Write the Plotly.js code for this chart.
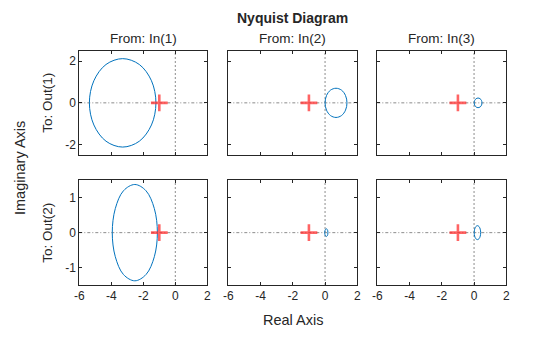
<!DOCTYPE html>
<html>
<head>
<meta charset="utf-8">
<script src="https://cdn.plot.ly/plotly-3.0.1.min.js"></script>
<style>html,body{margin:0;padding:0;background:#fff;}#chart{width:560px;height:337px;}</style>
</head>
<body>
<div id="chart"></div>
<script>
// Nyquist curves (closed loops, real / imaginary parts)
var c11_re = [-1.21,-1.49,-2.25,-3.29,-4.33,-5.09,-5.37,-5.09,-4.33,-3.29,-2.25,-1.49,-1.21];
var c11_im = [0,1.06,1.84,2.12,1.84,1.06,0,-1.06,-1.84,-2.12,-1.84,-1.06,0];
var c12_re = [1.36,1.27,1.02,0.68,0.34,0.09,0.0,0.09,0.34,0.68,1.02,1.27,1.36];
var c12_im = [0,0.35,0.61,0.70,0.61,0.35,0,-0.35,-0.61,-0.70,-0.61,-0.35,0];
var c13_re = [0.49,0.46,0.37,0.25,0.13,0.04,0.01,0.04,0.13,0.25,0.37,0.46,0.49];
var c13_im = [0,0.115,0.20,0.23,0.20,0.115,0,-0.115,-0.20,-0.23,-0.20,-0.115,0];
var c21_re = [-1.12,-1.31,-1.83,-2.53,-3.24,-3.75,-3.94,-3.75,-3.24,-2.53,-1.83,-1.31,-1.12];
var c21_im = [0,0.69,1.20,1.38,1.20,0.69,0,-0.69,-1.20,-1.38,-1.20,-0.69,0];
var c22_re = [0.18,0.167,0.13,0.08,0.03,-0.007,-0.02,-0.007,0.03,0.08,0.13,0.167,0.18];
var c22_im = [0,0.055,0.095,0.11,0.095,0.055,0,-0.055,-0.095,-0.11,-0.095,-0.055,0];
var c23_re = [0.41,0.383,0.31,0.21,0.11,0.037,0.01,0.037,0.11,0.21,0.31,0.383,0.41];
var c23_im = [0,0.10,0.173,0.20,0.173,0.10,0,-0.10,-0.173,-0.20,-0.173,-0.10,0];
var critical_re = [-1];
var critical_im = [0];

var inputs = ["From: In(1)","From: In(2)","From: In(3)"];
var outputs = ["To: Out(1)","To: Out(2)"];
var xTicks = [-6,-4,-2,0,2];
var yTicksRow1 = [-2,0,2];
var yTicksRow2 = [-1,0,1];
var xRange = [-6,2];
var yRangeRow1 = [-2.5,2.5];
var yRangeRow2 = [-1.5,1.5];

var curves = [[c11_re,c11_im],[c12_re,c12_im],[c13_re,c13_im],[c21_re,c21_im],[c22_re,c22_im],[c23_re,c23_im]];

var blue = '#0072BD';
var ink = '#262626';
var traces = [];
var shapes = [];
var axisIds = ['','2','3','4','5','6'];
for (var i=0;i<6;i++){
  var xa = 'x'+axisIds[i], ya = 'y'+axisIds[i];
  traces.push({x:curves[i][0], y:curves[i][1], type:'scatter', mode:'lines',
    line:{color:blue,width:1,shape:'spline',smoothing:1}, xaxis:xa, yaxis:ya, hoverinfo:'skip'});
  traces.push({x:critical_re, y:critical_im, type:'scatter', mode:'markers',
    marker:{symbol:'cross-thin', size:12, line:{color:'rgba(255,40,40,0.72)',width:2.6}},
    xaxis:xa, yaxis:ya, hoverinfo:'skip'});
  shapes.push({type:'line', xref:xa+' domain', x0:0, x1:1, yref:ya, y0:0, y1:0,
    line:{color:'#8c8c8c', width:1, dash:'3px,2px,1px,2px'}, layer:'below'});
  shapes.push({type:'line', yref:ya+' domain', y0:0, y1:1, xref:xa, x0:0, x1:0,
    line:{color:'#8c8c8c', width:1, dash:'2px,2px'}, layer:'below'});
}

var font = {family:'Liberation Sans, Arial, sans-serif', size:12, color:ink};
var xDomains = [[79.3/560,207.3/560],[228.3/560,357.3/560],[377.3/560,506.3/560]];
var yDomains = [[1-155/337,1-50.7/337],[1-285/337,1-180.3/337]];

function xax(col,row){
  return {domain:xDomains[col], anchor:'y'+axisIds[row*3+col], range:xRange, tickvals:xTicks,
    ticktext:xTicks.map(String), showticklabels:row===1, ticks:'inside', ticklen:3, tickcolor:ink,
    showline:true, mirror:'ticks', linecolor:ink, linewidth:1, showgrid:false, zeroline:false,
    tickfont:font, fixedrange:true};
}
function yax(col,row){
  var tv = row===0?yTicksRow1:yTicksRow2;
  return {domain:yDomains[row], anchor:'x'+axisIds[row*3+col], range:row===0?yRangeRow1:yRangeRow2,
    tickvals:tv, ticktext:tv.map(String), showticklabels:col===0, ticks:'inside', ticklen:3, tickcolor:ink,
    showline:true, mirror:'ticks', linecolor:ink, linewidth:1, showgrid:false, zeroline:false,
    tickfont:font, fixedrange:true};
}

var layout = {width:560, height:337, margin:{l:0,r:0,t:0,b:0}, showlegend:false,
  paper_bgcolor:'#fff', plot_bgcolor:'#fff', font:font, shapes:shapes, annotations:[]};
for (var r=0;r<2;r++) for (var c=0;c<3;c++){
  var k = axisIds[r*3+c];
  layout['xaxis'+k] = xax(c,r);
  layout['yaxis'+k] = yax(c,r);
}
var ann = layout.annotations;
ann.push({text:'<b>Nyquist Diagram</b>', xref:'paper', yref:'paper', x:292.8/560, y:1-18/337,
  xanchor:'center', yanchor:'middle', showarrow:false, font:{family:font.family,size:14,color:ink}});
for (var c=0;c<3;c++){
  ann.push({text:inputs[c], xref:'paper', yref:'paper', x:(xDomains[c][0]+xDomains[c][1])/2, y:1-38/337,
    xanchor:'center', yanchor:'middle', showarrow:false, font:{family:font.family,size:13.5,color:ink}});
}
for (var r=0;r<2;r++){
  ann.push({text:outputs[r], xref:'paper', yref:'paper', x:48/560, y:(yDomains[r][0]+yDomains[r][1])/2,
    xanchor:'center', yanchor:'middle', textangle:-90, showarrow:false, font:{family:font.family,size:13.5,color:ink}});
}
ann.push({text:'Imaginary Axis', xref:'paper', yref:'paper', x:20/560, y:1-168/337,
  xanchor:'center', yanchor:'middle', textangle:-90, showarrow:false, font:{family:font.family,size:14.5,color:ink}});
ann.push({text:'Real Axis', xref:'paper', yref:'paper', x:292.8/560, y:1-320/337,
  xanchor:'center', yanchor:'middle', showarrow:false, font:{family:font.family,size:14.5,color:ink}});

Plotly.newPlot('chart', traces, layout, {displayModeBar:false, staticPlot:true});
</script>
</body>
</html>
